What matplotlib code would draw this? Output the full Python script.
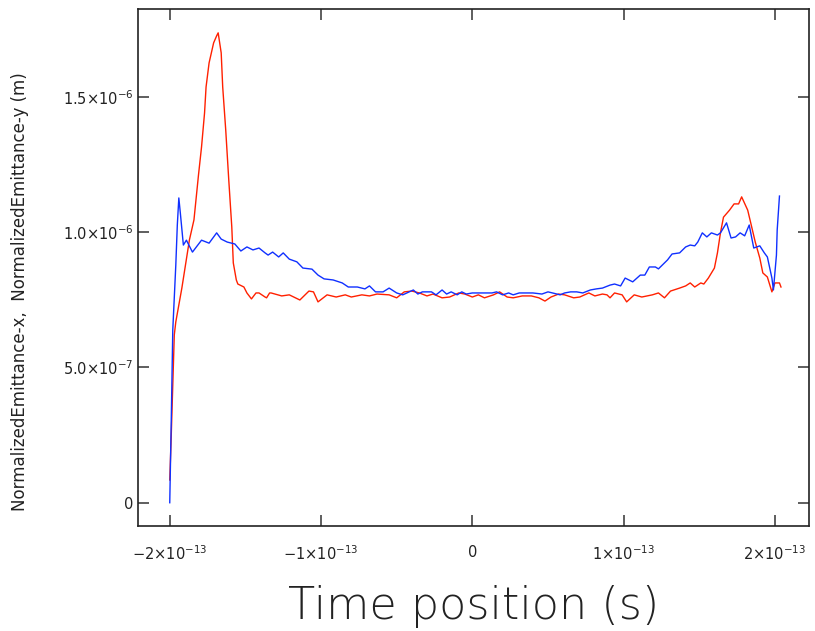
import matplotlib
matplotlib.use("Agg")
import matplotlib.pyplot as plt
from matplotlib.ticker import FixedLocator, FixedFormatter

# -------------------------------
# DATA (time in fs, emittance in 1e-7 m)
# -------------------------------

t_x = [-200, -199, -198, -197, -196, -192, -187, -184, -181, -179, -177, -176,
       -174, -171, -169, -168, -166, -165, -163, -161, -159, -158, -156, -155,
       -151, -149, -146, -143, -141, -137, -136, -134, -133, -126, -121, -114,
       -108, -105, -102, -96, -90, -84, -80, -73, -68, -63, -55, -50, -45, -40,
       -35, -30, -26, -20, -15, -9, -5, 0, 4, 8, 14, 18, 23, 27, 33, 39, 44, 48,
       52, 57, 61, 67, 71, 77, 81, 86, 89, 91, 94, 99, 102, 107, 112, 119, 123,
       127, 131, 137, 141, 144, 147, 151, 153, 156, 160, 162, 164, 166, 170, 173,
       176, 178, 182, 184, 187, 190, 192, 195, 198, 200, 203, 204]
emit_x = [0.84, 2.50, 4.35, 6.20, 6.68, 7.93, 9.71, 10.45, 12.11, 13.14, 14.40,
          15.36, 16.25, 16.99, 17.25, 17.36, 16.62, 15.36, 13.77, 11.93, 10.19,
          8.86, 8.23, 8.08, 7.97, 7.75, 7.53, 7.75, 7.75, 7.60, 7.57, 7.75, 7.75,
          7.64, 7.68, 7.49, 7.82, 7.79, 7.42, 7.68, 7.60, 7.68, 7.60, 7.68, 7.64,
          7.71, 7.68, 7.57, 7.79, 7.82, 7.75, 7.64, 7.71, 7.57, 7.60, 7.75, 7.71,
          7.60, 7.68, 7.57, 7.68, 7.79, 7.60, 7.57, 7.64, 7.64, 7.57, 7.45, 7.60,
          7.71, 7.68, 7.57, 7.60, 7.75, 7.64, 7.71, 7.68, 7.57, 7.75, 7.68, 7.42,
          7.68, 7.60, 7.68, 7.75, 7.57, 7.82, 7.93, 8.01, 8.12, 7.97, 8.12, 8.08,
          8.30, 8.67, 9.23, 9.97, 10.55, 10.81, 11.04, 11.04, 11.30, 10.81, 10.34,
          9.63, 9.04, 8.49, 8.34, 7.79, 8.12, 8.12, 7.97]

t_y = [-200, -199, -198, -196, -195, -194, -193, -191, -189, -185, -179, -174,
       -169, -166, -162, -157, -153, -149, -145, -141, -137, -135, -132, -128,
       -125, -121, -116, -112, -106, -102, -98, -92, -86, -82, -76, -71, -68,
       -64, -59, -55, -50, -46, -39, -36, -33, -27, -24, -20, -17, -14, -10, -7,
       -4, 0, 5, 8, 13, 16, 20, 24, 27, 31, 36, 40, 46, 50, 53, 58, 61, 65, 69,
       73, 78, 82, 86, 91, 94, 98, 101, 106, 111, 114, 117, 121, 123, 129, 132,
       137, 141, 144, 147, 149, 152, 155, 158, 162, 164, 168, 171, 174, 177, 180,
       183, 186, 190, 193, 195, 198, 199, 201, 201.5, 203]
emit_y = [0.00, 3.06, 6.38, 8.78, 10.26, 11.26, 10.70, 9.52, 9.70, 9.26, 9.70,
          9.59, 9.97, 9.74, 9.63, 9.56, 9.30, 9.45, 9.34, 9.41, 9.23, 9.15, 9.26,
          9.08, 9.23, 9.00, 8.90, 8.67, 8.63, 8.41, 8.27, 8.23, 8.12, 7.97, 7.97,
          7.90, 8.01, 7.79, 7.79, 7.93, 7.75, 7.68, 7.86, 7.71, 7.79, 7.79, 7.68,
          7.86, 7.71, 7.79, 7.68, 7.79, 7.71, 7.75, 7.75, 7.75, 7.75, 7.79, 7.68,
          7.75, 7.68, 7.75, 7.75, 7.75, 7.71, 7.79, 7.75, 7.68, 7.75, 7.79, 7.79,
          7.75, 7.86, 7.90, 7.93, 8.04, 8.08, 8.01, 8.30, 8.16, 8.41, 8.41, 8.71,
          8.71, 8.64, 8.97, 9.19, 9.23, 9.45, 9.52, 9.49, 9.63, 9.97, 9.82, 9.97,
          9.89, 9.97, 10.34, 9.78, 9.82, 9.97, 9.86, 10.26, 9.41, 9.49, 9.23,
          9.08, 8.30, 7.86, 9.15, 10.08, 11.33]

x_ticks = [-2e-13, -1e-13, 0, 1e-13, 2e-13]
x_tick_labels = [r"$-2{\times}10^{-13}$", r"$-1{\times}10^{-13}$", r"$0$",
                 r"$1{\times}10^{-13}$", r"$2{\times}10^{-13}$"]
y_ticks = [0, 5e-7, 1e-6, 1.5e-6]
y_tick_labels = [r"$0$", r"$5.0{\times}10^{-7}$", r"$1.0{\times}10^{-6}$",
                 r"$1.5{\times}10^{-6}$"]

# -------------------------------
# PLOT
# -------------------------------

plt.rcParams["mathtext.fontset"] = "dejavusans"

fig = plt.figure(figsize=(8.15, 6.31), dpi=100)
ax = fig.add_axes([0.1693, 0.1664, 0.8233, 0.8193])

ax.plot([t * 1e-15 for t in t_x], [v * 1e-7 for v in emit_x],
        color="#ff2000", lw=1.0)
ax.plot([t * 1e-15 for t in t_y], [v * 1e-7 for v in emit_y],
        color="#1030ff", lw=1.0)

ax.set_xlim(-2.21e-13, 2.225e-13)
ax.set_ylim(-0.086e-6, 1.824e-6)

ax.xaxis.set_major_locator(FixedLocator(x_ticks))
ax.xaxis.set_major_formatter(FixedFormatter(x_tick_labels))
ax.yaxis.set_major_locator(FixedLocator(y_ticks))
ax.yaxis.set_major_formatter(FixedFormatter(y_tick_labels))

ax.tick_params(direction="in", length=8, width=1.1, color="#333333",
               top=True, right=True, labelsize=10.5, labelcolor="#222222")
ax.tick_params(axis="x", pad=13)
ax.tick_params(axis="y", pad=3)

for s in ax.spines.values():
    s.set_linewidth(1.2)
    s.set_color("#222222")

ax.set_xlabel("Time position (s)", fontsize=32, fontweight="light",
              color="#222222")
ax.xaxis.set_label_coords(0.5, -0.115)
ax.set_ylabel("NormalizedEmittance-x,  NormalizedEmittance-y (m)",
              fontsize=12, color="#222222")
ax.yaxis.set_label_coords(-0.163, 0.453)

plt.savefig("out.png", dpi=100)
